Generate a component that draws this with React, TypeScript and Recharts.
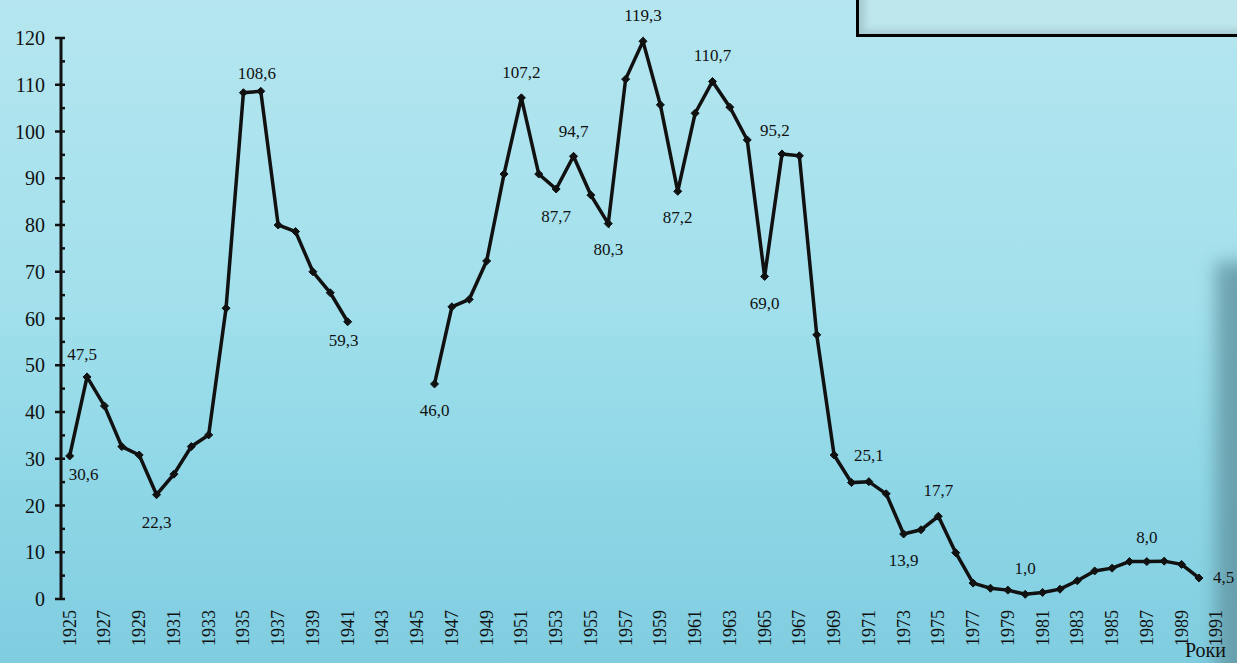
import React from "react";
import { LabelList, Line, LineChart, XAxis, YAxis } from "recharts";

const YEARS = [
  1925, 1926, 1927, 1928, 1929, 1930, 1931, 1932, 1933, 1934, 1935, 1936, 1937, 1938, 1939, 1940,
  1941, 1942, 1943, 1944, 1945, 1946, 1947, 1948, 1949, 1950, 1951, 1952, 1953, 1954, 1955, 1956,
  1957, 1958, 1959, 1960, 1961, 1962, 1963, 1964, 1965, 1966, 1967, 1968, 1969, 1970, 1971, 1972,
  1973, 1974, 1975, 1976, 1977, 1978, 1979, 1980, 1981, 1982, 1983, 1984, 1985, 1986, 1987, 1988,
  1989, 1990, 1991,
];

// null = no data (war years, 1991)
const VALUES: (number | null)[] = [
  30.6, 47.5, 41.3, 32.6, 30.8, 22.3, 26.7, 32.6, 35.1, 62.2, 108.3, 108.6, 80.0, 78.6, 70.0, 65.5,
  59.3, null, null, null, null, 46.0, 62.5, 64.1, 72.3, 90.9, 107.2, 90.9, 87.7, 94.7, 86.4, 80.3,
  111.2, 119.3, 105.7, 87.2, 103.9, 110.7, 105.2, 98.2, 69.0, 95.2, 94.8, 56.5, 30.8, 24.9, 25.1, 22.5,
  13.9, 14.8, 17.7, 9.9, 3.4, 2.3, 1.9, 1.0, 1.4, 2.1, 3.9, 6.0, 6.6, 8.0, 8.0, 8.1,
  7.4, 4.5, null,
];

const LABEL_YEARS = [
  1925, 1927, 1929, 1931, 1933, 1935, 1937, 1939, 1941, 1943, 1945, 1947, 1949, 1951, 1953, 1955,
  1957, 1959, 1961, 1963, 1965, 1967, 1969, 1971, 1973, 1975, 1977, 1979, 1981, 1983, 1985, 1987,
  1989, 1991,
];

const Y_TICKS = [0, 5, 10, 15, 20, 25, 30, 35, 40, 45, 50, 55, 60, 65, 70, 75, 80, 85, 90, 95, 100, 105, 110, 115, 120];

// years whose value is printed next to the point
const ANNOTATED = [1925, 1926, 1930, 1936, 1941, 1946, 1951, 1953, 1954, 1956, 1958, 1960, 1962, 1965, 1966, 1971, 1973, 1975, 1980, 1987, 1990];

// label placement (style only): [year, dx, dy, anchor]
const LABEL_SPOTS: [number, number, number, string][] = [
  [1925, 14, 19, "middle"],
  [1926, -5, -22, "middle"],
  [1930, 0, 28, "middle"],
  [1936, -4, -18, "middle"],
  [1941, -4, 19, "middle"],
  [1946, 0, 27, "middle"],
  [1951, 0, -25, "middle"],
  [1953, 0, 27, "middle"],
  [1954, 0, -25, "middle"],
  [1956, 0, 26, "middle"],
  [1958, 0, -26, "middle"],
  [1960, 0, 26, "middle"],
  [1962, 0, -26, "middle"],
  [1965, 0, 27, "middle"],
  [1966, -7, -23, "middle"],
  [1971, 0, -26, "middle"],
  [1973, 0, 26, "middle"],
  [1975, 0, -26, "middle"],
  [1980, 0, -26, "middle"],
  [1987, 0, -24, "middle"],
  [1990, 14, 0, "start"],
];

const FONT = "'Liberation Serif', 'Times New Roman', serif";
const INK = "#111";

const data = YEARS.map((year, i) => ({ year, value: VALUES[i] }));
const boundaryTicks = [...YEARS.map((y) => y - 0.5), YEARS[YEARS.length - 1] + 0.5];
const X_DOMAIN: [number, number] = [YEARS[0] - 0.5, YEARS[YEARS.length - 1] + 0.5];

const fmt = (v: number) => v.toFixed(1).replace(".", ",");

function Diamond(props: any) {
  const { cx, cy, value } = props;
  if (value == null || cx == null || cy == null) return <g />;
  const s = 4;
  return (
    <polygon
      points={`${cx},${cy - s} ${cx + s},${cy} ${cx},${cy + s} ${cx - s},${cy}`}
      fill={INK}
      stroke={INK}
      strokeWidth={1}
    />
  );
}

function YTick(props: any) {
  const { x, y, payload } = props;
  const major = payload.value % 10 === 0;
  return (
    <g>
      <line x1={major ? x - 6 : x} x2={x + 4} y1={y} y2={y} stroke={INK} strokeWidth={2.5} />
      {major && (
        <text x={x - 16} y={y} textAnchor="end" dominantBaseline="central" fontFamily={FONT} fontSize={20} fill={INK}>
          {payload.value}
        </text>
      )}
    </g>
  );
}

function YearTick(props: any) {
  const { x, y, payload } = props;
  const ty = y + 11;
  return (
    <text
      x={x}
      y={ty}
      transform={`rotate(-90 ${x} ${ty})`}
      textAnchor="end"
      dominantBaseline="central"
      fontFamily={FONT}
      fontSize={18}
      fill={INK}
    >
      {payload.value}
    </text>
  );
}

function ValueLabel(props: any) {
  const { x, y, value, index } = props;
  const year = YEARS[index];
  if (value == null || !ANNOTATED.includes(year)) return null;
  const spot = LABEL_SPOTS.find((s) => s[0] === year);
  const [, dx, dy, anchor] = spot || [year, 0, -24, "middle"];
  return (
    <text
      x={x + dx}
      y={y + dy}
      textAnchor={anchor}
      dominantBaseline="central"
      fontFamily={FONT}
      fontSize={17}
      fill={INK}
    >
      {fmt(value)}
    </text>
  );
}

export default function App() {
  return (
    <div
      style={{
        position: "fixed",
        left: 0,
        top: 0,
        width: 1237,
        height: 663,
        overflow: "hidden",
        background: "linear-gradient(to bottom, #b5e6ef 0%, #a2e0ec 45%, #8dd6e6 75%, #80cde0 100%)",
      }}
    >
      {/* box at the top right */}
      <div
        style={{
          position: "absolute",
          left: 856,
          top: -10,
          width: 420,
          height: 44,
          background: "#bde7ed",
          borderLeft: "3px solid #000",
          borderBottom: "3px solid #000",
          boxShadow: "inset 6px -4px 6px rgba(0,0,0,0.12)",
        }}
      />
      {/* shadow on the right edge */}
      <div
        style={{
          position: "absolute",
          left: 1216,
          top: 262,
          width: 60,
          height: 420,
          background: "#6398a5",
          filter: "blur(9px)",
          opacity: 0.85,
        }}
      />
      <div style={{ position: "absolute", left: 0, top: 0 }}>
        <LineChart width={1237} height={663} data={data} margin={{ top: 38, right: 12, left: 0, bottom: 0 }}>
          <XAxis
            xAxisId={0}
            dataKey="year"
            type="number"
            domain={X_DOMAIN}
            ticks={boundaryTicks}
            interval={0}
            height={0}
            tickSize={5}
            tickLine={{ stroke: INK, strokeWidth: 2.5 }}
            axisLine={{ stroke: INK, strokeWidth: 3 }}
            tick={() => <g />}
          />
          <XAxis
            xAxisId="lbl"
            dataKey="year"
            type="number"
            domain={X_DOMAIN}
            ticks={LABEL_YEARS}
            interval={0}
            height={64}
            tickSize={0}
            tickMargin={0}
            tickLine={false}
            axisLine={false}
            tick={<YearTick />}
          />
          <YAxis
            width={61}
            domain={[0, 120]}
            ticks={Y_TICKS}
            interval={0}
            tickSize={0}
            tickMargin={0}
            tickLine={false}
            axisLine={{ stroke: INK, strokeWidth: 3 }}
            tick={<YTick />}
          />
          <Line
            xAxisId={0}
            type="linear"
            dataKey="value"
            stroke={INK}
            strokeWidth={3.5}
            dot={<Diamond />}
            activeDot={false}
            isAnimationActive={false}
          >
            <LabelList dataKey="value" content={<ValueLabel />} />
          </Line>
        </LineChart>
      </div>
      <div
        style={{
          position: "absolute",
          right: 11,
          top: 638,
          fontFamily: FONT,
          fontSize: 20,
          color: INK,
          lineHeight: "24px",
        }}
      >
        Роки
      </div>
    </div>
  );
}
